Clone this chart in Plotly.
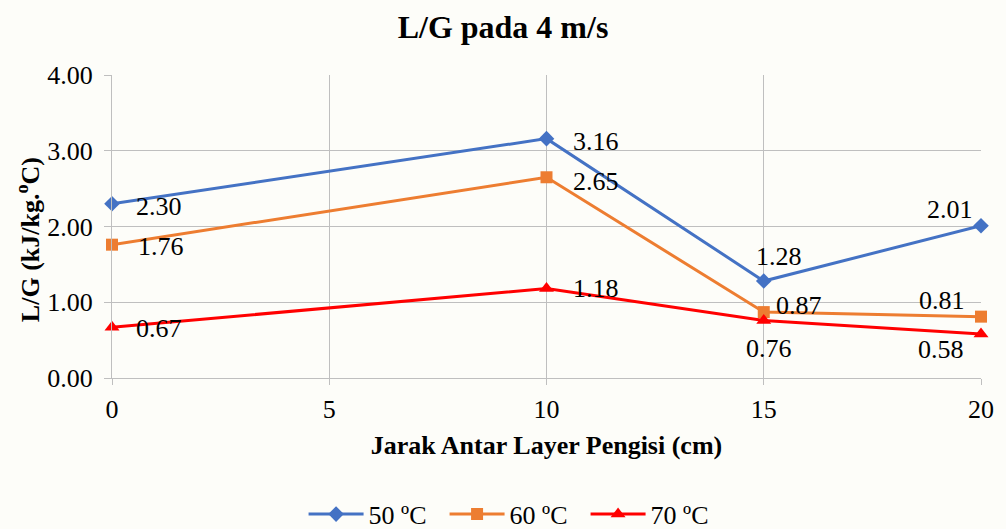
import plotly.graph_objects as go

# Spacing between filler layers (cm)
jarak = [0, 10, 15, 20]

# L/G ratio (kJ/kg.ºC) at 4 m/s for each inlet temperature
lg_50 = [2.30, 3.16, 1.28, 2.01]
lg_60 = [1.76, 2.65, 0.87, 0.81]
lg_70 = [0.67, 1.18, 0.76, 0.58]

series_names = ["50 ºC", "60 ºC", "70 ºC"]
series_values = [lg_50, lg_60, lg_70]
colors = ["#4472C4", "#ED7D31", "#FF0000"]
symbols = ["diamond", "square", "triangle-up"]
marker_sizes = [12, 12, 13]

# Label placement per point: (xanchor, yanchor, xshift, yshift)
label_pos = [
    [("left", "middle", 22, -3), ("left", "middle", 24, -3),
     ("center", "bottom", 15, 8), ("right", "bottom", -6, 0)],
    [("left", "middle", 24, -2), ("left", "middle", 24, -4),
     ("left", "middle", 10, 7), ("right", "bottom", -14, 0)],
    [("left", "middle", 22, -1), ("left", "middle", 24, 0),
     ("center", "top", 5, -12), ("right", "top", -15, 1)],
]

serif = "Liberation Serif"
fs = 26

fig = go.Figure()
annotations = []
for name, vals, col, sym, ms, pos in zip(series_names, series_values, colors,
                                         symbols, marker_sizes, label_pos):
    fig.add_trace(go.Scatter(
        x=jarak, y=vals, name=name, mode="lines+markers",
        line=dict(color=col, width=3),
        marker=dict(symbol=sym, size=ms, color=col),
        cliponaxis=False,
    ))
    for xv, yv, (xa, ya, xs, ys) in zip(jarak, vals, pos):
        annotations.append(dict(
            x=xv, y=yv, xref="x", yref="y", text=f"{yv:.2f}",
            showarrow=False, xanchor=xa, yanchor=ya, xshift=xs, yshift=ys,
            font=dict(family=serif, size=fs, color="#000000"),
        ))

# Vertical axis title, placed as a rotated annotation
annotations.append(dict(
    text="<b>L/G (kJ/kg.<sup>o</sup>C)</b>", textangle=-90,
    xref="paper", yref="paper", x=0, y=0.455, xanchor="center",
    yanchor="middle", xshift=-84, showarrow=False,
    font=dict(family=serif, size=fs, color="#000000"),
))

grid = "#BFBFBF"
fig.update_layout(
    width=1006, height=529,
    paper_bgcolor="#FDFDF9", plot_bgcolor="#FDFDF9",
    margin=dict(l=112, r=19, t=75, b=151),
    font=dict(family=serif, size=fs, color="#000000"),
    title=dict(text="<b>L/G pada 4 m/s</b>", x=0.5, xanchor="center",
               yref="container", y=0.95, yanchor="middle",
               font=dict(family=serif, size=32, color="#000000")),
    xaxis=dict(
        range=[0, 20], tick0=0, dtick=5, showgrid=True, gridcolor=grid,
        gridwidth=1, zeroline=False, showline=True, linecolor=grid,
        ticks="outside", ticklen=6, tickcolor=grid, ticklabelstandoff=2,
        tickfont=dict(family=serif, size=fs),
        title=dict(text="<b>Jarak Antar Layer Pengisi (cm)</b>",
                   font=dict(family=serif, size=fs), standoff=12),
    ),
    yaxis=dict(
        range=[0, 4], tick0=0, dtick=1, tickformat=".2f", showgrid=True,
        gridcolor=grid, gridwidth=1, zeroline=False, showline=True,
        linecolor=grid, ticks="outside", ticklen=7, tickcolor=grid,
        ticklabelstandoff=6,
        tickfont=dict(family=serif, size=fs),
    ),
    legend=dict(orientation="h", xref="container", x=0.512, xanchor="center",
                yref="container", y=0.028, yanchor="middle", itemwidth=55,
                entrywidth=71, entrywidthmode="pixels",
                font=dict(family=serif, size=fs),
                bgcolor="rgba(0,0,0,0)"),
    annotations=annotations,
    showlegend=True,
)

fig.write_html("out.html")
